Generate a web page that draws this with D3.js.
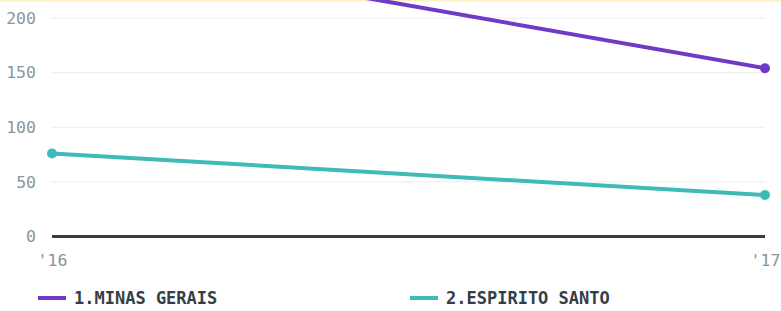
<!DOCTYPE html>
<html>
<head>
    <script src="https://d3js.org/d3.v7.min.js"></script>
    <style>
        body { margin: 0; background: #fff; }
        svg { display: block; }
    </style>
</head>
<body>
    <div id="chart"></div>
    <script>
        const years = ["'16", "'17"];
        const seriesNames = ["1.MINAS GERAIS", "2.ESPIRITO SANTO"];
        const minasGerais = [269, 154];
        const espiritoSanto = [76, 38];
        const yTicks = [0, 50, 100, 150, 200];
        const colors = ["#6f3ac6", "#3dbbb9"];

        const width = 781, height = 311;
        const svg = d3.select("#chart").append("svg")
            .attr("width", width)
            .attr("height", height);

        const x = d3.scalePoint().domain(years).range([52, 765]);
        const y = d3.scaleLinear().domain([0, 200]).range([236.5, 18]);

        // thin yellow border at top
        svg.append("rect")
            .attr("x", 0).attr("y", 0)
            .attr("width", width).attr("height", 1.5)
            .attr("fill", "#fdf0c4");

        // gridlines + labels
        const yAxis = d3.axisLeft(y).tickValues(yTicks).tickSize(0).tickPadding(16);
        const gy = svg.append("g").attr("transform", "translate(52,0)").call(yAxis);
        gy.select(".domain").remove();
        gy.selectAll("text")
            .attr("fill", "#8b969c")
            .attr("font-family", "DejaVu Sans Mono, monospace")
            .attr("font-size", 16.5);

        svg.append("g").selectAll("line")
            .data(yTicks.filter(d => d > 0))
            .join("line")
            .attr("x1", 52).attr("x2", 765)
            .attr("y1", d => y(d)).attr("y2", d => y(d))
            .attr("stroke", "#ececec")
            .attr("stroke-width", 1);

        // x labels
        const xAxis = d3.axisBottom(x).tickSize(0).tickPadding(18);
        const gx = svg.append("g").attr("transform", `translate(0,${y(0)})`).call(xAxis);
        gx.select(".domain").remove();
        gx.selectAll("text")
            .attr("fill", "#8b969c")
            .attr("font-family", "DejaVu Sans Mono, monospace")
            .attr("font-size", 16.5);

        // zero baseline
        svg.append("line")
            .attr("x1", 52).attr("x2", 765)
            .attr("y1", y(0)).attr("y2", y(0))
            .attr("stroke", "#333f48")
            .attr("stroke-width", 3);

        const series = [minasGerais, espiritoSanto];
        const line = d3.line().x((d, i) => x(years[i])).y(d => y(d));

        series.forEach((vals, s) => {
            svg.append("path")
                .datum(vals)
                .attr("d", line)
                .attr("fill", "none")
                .attr("stroke", colors[s])
                .attr("stroke-width", 4);
            svg.append("g").selectAll("circle")
                .data(vals)
                .join("circle")
                .attr("cx", (d, i) => x(years[i]))
                .attr("cy", d => y(d))
                .attr("r", 5)
                .attr("fill", colors[s]);
        });

        // legend
        const legendX = [38, 410];
        const lg = svg.append("g").selectAll("g")
            .data(seriesNames)
            .join("g")
            .attr("transform", (d, i) => `translate(${legendX[i]},298)`);
        lg.append("line")
            .attr("x1", 0).attr("x2", 28)
            .attr("stroke", (d, i) => colors[i])
            .attr("stroke-width", 4);
        lg.append("text")
            .attr("x", 36)
            .attr("dy", "0.36em")
            .attr("fill", "#333f48")
            .attr("font-family", "DejaVu Sans Mono, monospace")
            .attr("font-weight", "bold")
            .attr("font-size", 17)
            .text(d => d);
    </script>
</body>
</html>
